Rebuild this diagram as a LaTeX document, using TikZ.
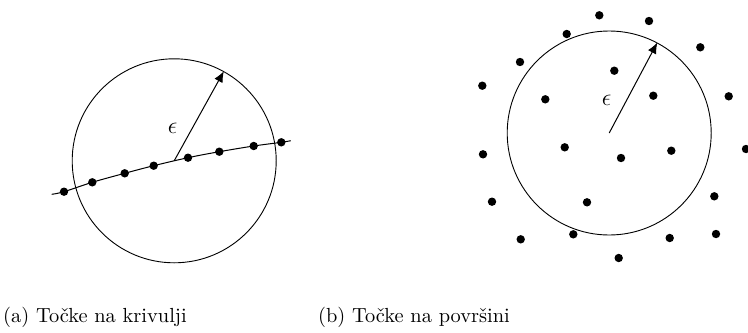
\documentclass[tikz,border=0pt]{standalone}
\usetikzlibrary{arrows.meta}
\begin{document}
\begin{tikzpicture}[x=0.5pt,y=-0.5pt,
  dot/.style={circle,fill=black,inner sep=0pt,minimum size=4.2pt},
  ring/.style={circle,draw=black,line width=0.45pt,inner sep=0pt,minimum size=102pt},
  radius arrow/.style={-{Latex[length=5.5pt,width=4.6pt]},line width=0.5pt},
  curveline/.style={line width=0.5pt},
  epslabel/.style={inner sep=0pt,font=\fontsize{12}{14}\selectfont},
  caption/.style={inner sep=0pt,anchor=base,font=\fontsize{10.2}{12}\selectfont}]
\useasboundingbox (0,0) rectangle (748,332);
% left panel
\node[ring] (cl) at (174.2,160.8) {};
\coordinate (ls) at (51.7,194.3);
\coordinate (le) at (290.7,140.7);
\node[dot] (a1) at (64,191.7) {};
\node[dot] (a2) at (92.3,182.3) {};
\node[dot] (a3) at (124.7,173.3) {};
\node[dot] (a4) at (153.7,165.7) {};
\node[dot] (a5) at (188,157.7) {};
\node[dot] (a6) at (219.3,151.7) {};
\node[dot] (a7) at (253.7,146) {};
\node[dot] (a8) at (281.3,142.3) {};
\draw[curveline] plot[smooth,tension=0.6] coordinates {(ls) (a1.center) (a2.center) (a3.center) (a4.center) (a5.center) (a6.center) (a7.center) (a8.center) (le)};
\draw[radius arrow] (cl.center) -- (cl.61);
\node[epslabel] (el) at (172.7,128.3) {$\epsilon$};
% right panel
\node[ring] (cr) at (609.2,133) {};
\draw[radius arrow] (cr.center) -- (cr.62);
\node[epslabel] (er) at (606.7,100) {$\epsilon$};
\foreach \i/\x/\y in {1/599.3/15.3,2/649/21,3/566.7/34,4/700.3/47.3,5/520/62,6/614.3/70.7,
  7/482.3/85.7,8/545.3/99.3,9/653.3/95.7,10/728.7/96.3,11/564.7/147.3,12/483/154.3,
  13/621/158,14/671.3/150.7,15/746/149,16/492/201.7,17/587/202.3,18/714.3/196.3,
  19/520.7/239.3,20/573.3/234.3,21/669.7/238,22/716/234,23/618.7/258}
  \node[dot] (b\i) at (\x,\y) {};
% captions
\node[caption] (capa) at (95,322) {(a) Točke na krivulji};
\node[caption] (capb) at (414,322) {(b) Točke na površini};
\end{tikzpicture}
\end{document}
